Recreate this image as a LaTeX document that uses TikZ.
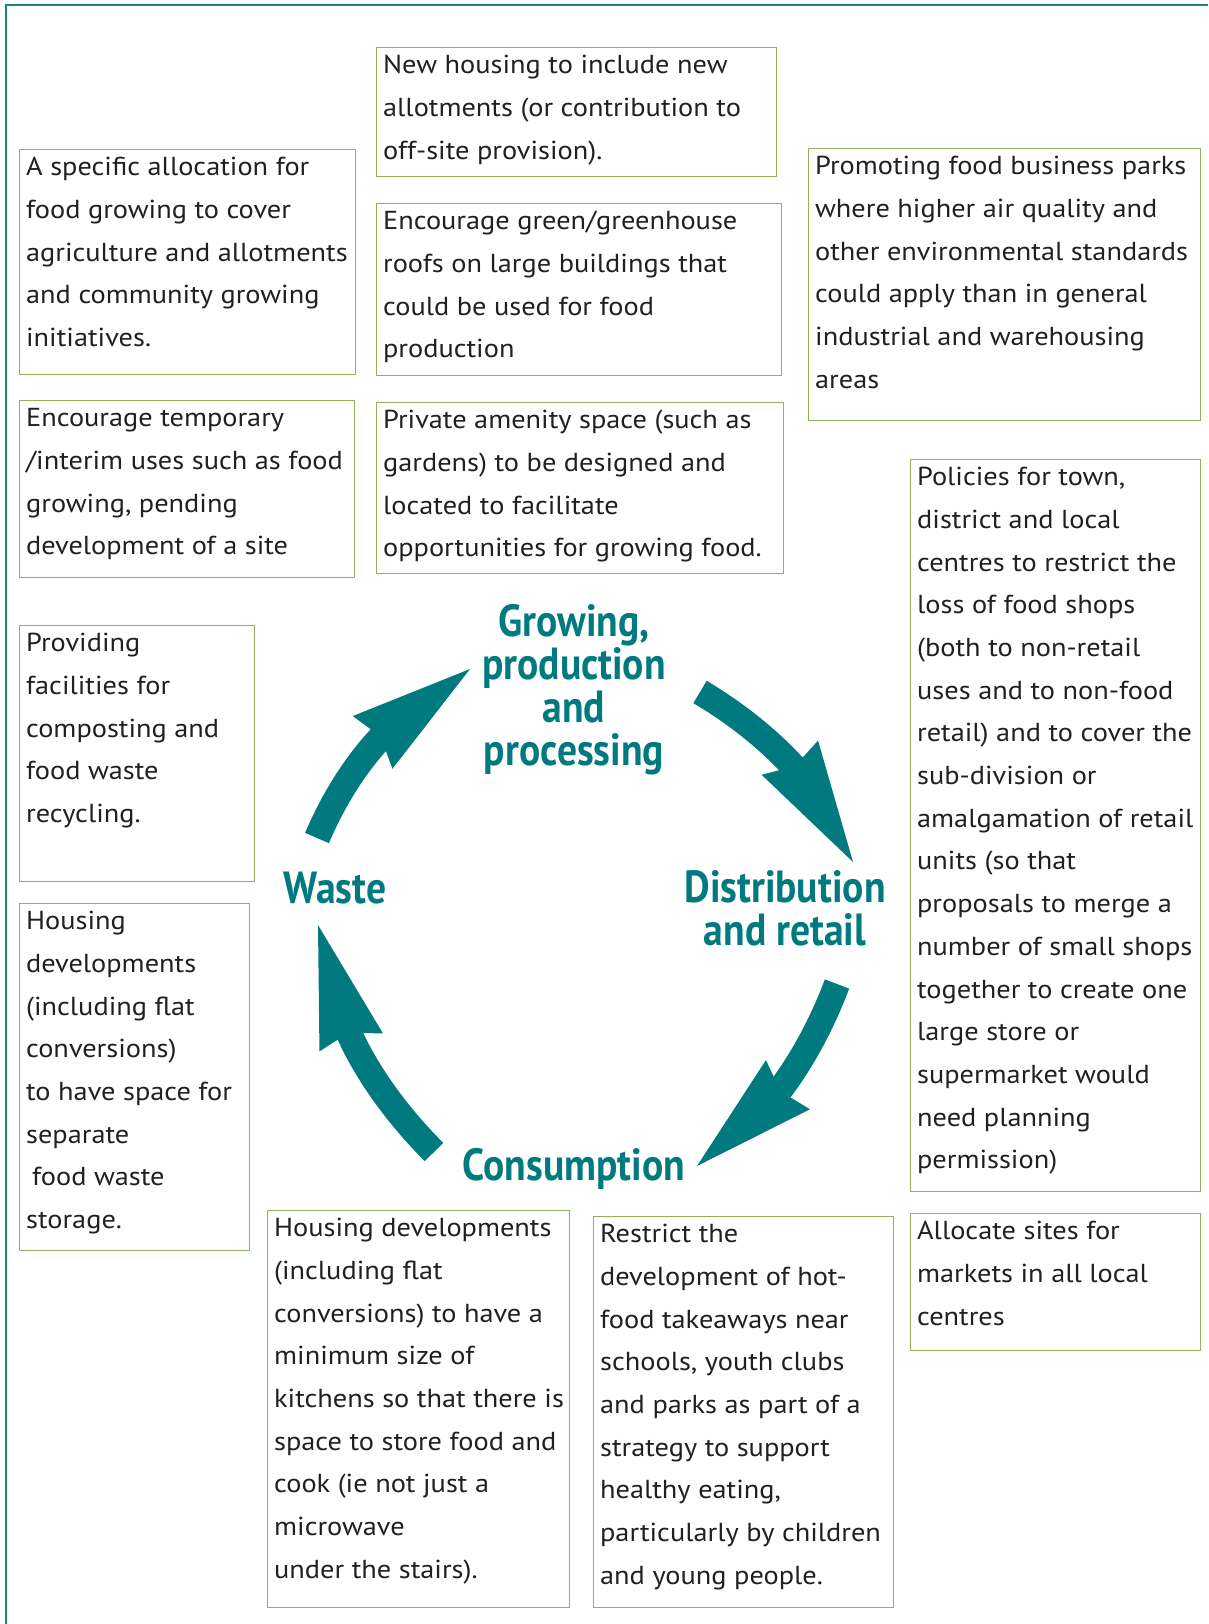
\documentclass[tikz,border=0pt]{standalone}
\usepackage{fontspec}
\setmainfont{PT Sans}[FakeStretch=1.09]
\newfontfamily\headfont[FakeStretch=0.88]{PT Sans}
\usetikzlibrary{arrows.meta}
\definecolor{cycleteal}{HTML}{007A7F}
\definecolor{frameteal}{HTML}{1C8189}
\definecolor{boxgreen}{HTML}{8DB35C}
\definecolor{inkgrey}{HTML}{231F20}
\newcommand{\boxtext}[3]{\parbox[t][#2][t]{#1}{\raggedright\leftskip=6.5pt\rule{0pt}{26pt}#3\par}}
\tikzset{
  policy/.style={draw=boxgreen,line width=1.3pt,anchor=north west,inner sep=0pt,text=inkgrey,
    font=\fontsize{26pt}{42.7pt}\selectfont},
  stage/.style={text=cycleteal,align=center,inner sep=0pt,
    font=\headfont\bfseries\fontsize{45pt}{43pt}\selectfont},
  cyc/.style={draw=cycleteal,line width=26pt,
    -{Stealth[length=122pt,width=66pt,inset=10pt,line width=0pt]}}
}
\begin{document}
\begin{tikzpicture}[x=1pt,y=1pt]
    \useasboundingbox(0,0)rectangle(1208,-1624);
    % frame
    \draw[frameteal,line width=2.5pt](6,-1624)|-(1208,-5);
    % top row
    \node[policy](newhouse)at(376,-47){\boxtext{400pt}{129pt}{New housing to include new\\allotments (or contribution to\\off-site provision).}};
    \node[policy](alloc)at(19,-149){\boxtext{336pt}{225pt}{A specific allocation for\\food growing to cover\\agriculture and allotments\\and community growing\\initiatives.}};
    \node[policy](roofs)at(376,-203){\boxtext{405pt}{172pt}{Encourage green/greenhouse\\roofs on large buildings that\\could be used for food\\production}};
    \node[policy](business)at(808,-148){\boxtext{392pt}{272pt}{Promoting food business parks\\where higher air quality and\\other environmental standards\\could apply than in general\\industrial and warehousing\\areas}};
    \node[policy](temporary)at(19,-400){\boxtext{335pt}{177pt}{Encourage temporary\\/interim uses such as food\\growing, pending\\development of a site}};
    \node[policy](amenity)at(376,-402){\boxtext{407pt}{171pt}{Private amenity space (such as\\gardens) to be designed and\\located to facilitate\\opportunities for growing food.}};
    % right column
    \node[policy](town)at(910,-459){\boxtext{290pt}{732pt}{Policies for town,\\district and local\\centres to restrict the\\loss of food shops\\(both to non-retail\\uses and to non-food\\retail) and to cover the\\sub-division or\\amalgamation of retail\\units (so that\\proposals to merge a\\number of small shops\\together to create one\\large store or\\supermarket would\\need planning\\permission)}};
    \node[policy](markets)at(910,-1213){\boxtext{290pt}{137pt}{Allocate sites for\\markets in all local\\centres}};
    % left column
    \node[policy](compost)at(19,-625){\boxtext{235pt}{256pt}{Providing\\facilities for\\composting and\\food waste\\recycling.}};
    \node[policy](housewaste)at(19,-903){\boxtext{230pt}{347pt}{Housing\\developments\\(including flat\\conversions)\\to have space for\\separate\\\hspace*{6pt}food waste\\storage.}};
    % bottom row
    \node[policy](kitchens)at(267,-1210){\boxtext{302pt}{397pt}{Housing developments\\(including flat\\conversions) to have a\\minimum size of\\kitchens so that there is\\space to store food and\\cook (ie not just a\\microwave\\under the stairs).}};
    \node[policy](takeaway)at(593,-1216){\boxtext{300pt}{391pt}{Restrict the\\development of hot-\\food takeaways near\\schools, youth clubs\\and parks as part of a\\strategy to support\\healthy eating,\\particularly by children\\and young people.}};
    % cycle stages
    \node[stage](grow)at(574,-690){Growing,\\production\\and\\processing};
    \node[stage](dist)at(785,-908){Distribution\\and retail};
    \node[stage](cons)at(574,-1169){Consumption};
    \node[stage](waste)at(335,-888){Waste};
    % cycle arrows
    \coordinate(w-out)at(317,-838);\coordinate(g-in)at(470,-669);
    \coordinate(g-out)at(700,-692);\coordinate(d-in)at(853,-862);
    \coordinate(d-out)at(837,-984);\coordinate(c-in)at(697,-1166);
    \coordinate(c-out)at(434,-1152);\coordinate(w-in)at(318,-925);
    \draw[cyc](w-out)to[out=67,in=217](g-in);
    \draw[cyc](g-out)to[out=-30.6,in=121.2](d-in);
    \draw[cyc](d-out)to[out=249.4,in=41.8](c-in);
    \draw[cyc](c-out)to[out=135,in=285.8](w-in);
\end{tikzpicture}
\end{document}
